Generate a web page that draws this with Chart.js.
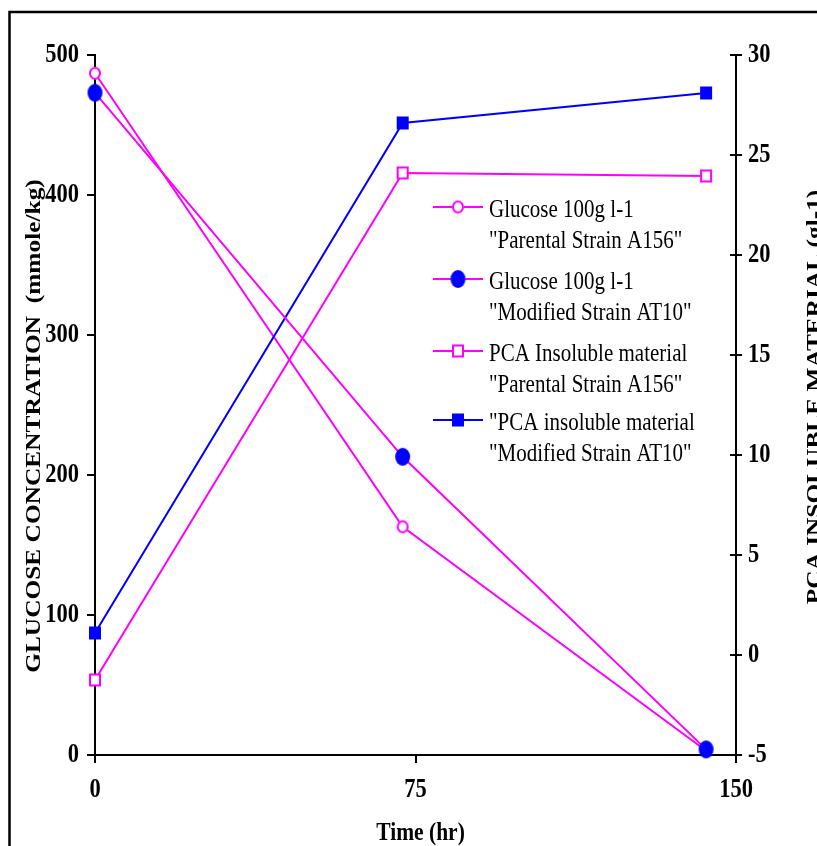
<!DOCTYPE html>
<html>
<head>
<meta charset="utf-8">
<script src="https://cdn.jsdelivr.net/npm/chart.js@4/dist/chart.umd.min.js"></script>
<style>
  html, body { margin: 0; padding: 0; background: #fff; overflow: hidden; }
  #wrap { width: 817px; height: 846px; position: relative; }
</style>
</head>
<body>
<div id="wrap"><canvas id="c" width="817" height="846"></canvas></div>
<script>
// Sampling times (hr)
const timeHours = [0, 72, 143];

// Glucose concentration (mmole/kg), left axis
const glucoseParental = [487, 163, 3];
const glucoseModified = [473, 213, 4];

// PCA insoluble material (g l-1), right axis
const pcaParental = [-1.25, 24.1, 23.95];
const pcaModified = [1.1, 26.6, 28.1];

// Axis tick settings
const xTicks = { min: 0, max: 150, step: 75 };
const glucoseTicks = { min: 0, max: 500, step: 100 };
const pcaTicks = { min: -5, max: 30, step: 5 };

// Labels
const legendLabels = [
  ['Glucose 100g l-1', '"Parental Strain A156"'],
  ['Glucose 100g l-1', '"Modified Strain AT10"'],
  ['PCA Insoluble material', '"Parental Strain A156"'],
  ['"PCA insoluble material', '"Modified Strain AT10"']
];
const xTitle = 'Time (hr)';
const leftTitle = 'GLUCOSE CONCENTRATION  (mmole/kg)';
const rightTitle = 'PCA INSOLUBLE MATERIAL (gl-1)';

const MAGENTA = '#FF00FF';
const BLUE = '#0000FF';
const SERIF = '"Liberation Serif", "Times New Roman", serif';
const STRETCH = 1.18; // type is set a little taller than wide

// Slightly tall marker glyphs
function makeMarker(shape, w, h, fill, stroke, lw) {
  const pad = 2;
  const cv = document.createElement('canvas');
  cv.width = w + pad * 2; cv.height = h + pad * 2;
  const g = cv.getContext('2d');
  g.beginPath();
  if (shape === 'ellipse') {
    g.ellipse(cv.width / 2, cv.height / 2, w / 2, h / 2, 0, 0, Math.PI * 2);
  } else {
    g.rect(pad, pad, w, h);
  }
  if (fill) { g.fillStyle = fill; g.fill(); }
  if (stroke) {
    g.lineWidth = lw; g.strokeStyle = stroke;
    g.beginPath();
    if (shape === 'ellipse') g.ellipse(cv.width / 2, cv.height / 2, w / 2 - lw / 2, h / 2 - lw / 2, 0, 0, Math.PI * 2);
    else g.rect(pad + lw / 2, pad + lw / 2, w - lw, h - lw);
    g.stroke();
  }
  return cv;
}
const mOpenCircle = makeMarker('ellipse', 12, 13, '#fff', MAGENTA, 2);
const mDot = makeMarker('ellipse', 15, 18, BLUE, null, 0);
const mOpenSquare = makeMarker('rect', 12, 13, '#fff', MAGENTA, 2);
const mSquare = makeMarker('rect', 12, 13, BLUE, null, 0);

const pts = (vals) => vals.map((v, i) => ({ x: timeHours[i], y: v }));

const datasets = [
  { label: legendLabels[0].join(' '), data: pts(glucoseParental), yAxisID: 'y',
    borderColor: MAGENTA, pointStyle: mOpenCircle, order: 2 },
  { label: legendLabels[1].join(' '), data: pts(glucoseModified), yAxisID: 'y',
    borderColor: MAGENTA, pointStyle: mDot, order: 0 },
  { label: legendLabels[2].join(' '), data: pts(pcaParental), yAxisID: 'y1',
    borderColor: MAGENTA, pointStyle: mOpenSquare, order: 1 },
  { label: legendLabels[3].join(' '), data: pts(pcaModified), yAxisID: 'y1',
    borderColor: BLUE, pointStyle: mSquare, order: 1 }
].map(d => Object.assign({ borderWidth: 2, tension: 0, fill: false, pointRadius: 7, clip: false }, d));

function drawText(ctx, text, x, y, o) {
  ctx.save();
  ctx.translate(x, y);
  if (o.rotate) ctx.rotate(o.rotate);
  ctx.scale(o.sx || 1, o.sy || 1);
  ctx.font = o.font;
  ctx.fillStyle = '#000';
  ctx.textAlign = o.align || 'left';
  ctx.textBaseline = o.baseline || 'alphabetic';
  ctx.fillText(text, 0, 0);
  ctx.restore();
}

// Frame, tick labels, titles, inner right ticks and the two-line legend
const decorations = {
  id: 'decorations',
  beforeDraw(chart) {
    const ctx = chart.ctx;
    ctx.save();
    ctx.fillStyle = '#fff';
    ctx.fillRect(0, 0, chart.width, chart.height);
    ctx.strokeStyle = '#000';
    ctx.lineWidth = 2.5;
    ctx.beginPath();
    ctx.moveTo(9.5, chart.height + 5);
    ctx.lineTo(9.5, 12);
    ctx.lineTo(chart.width + 5, 12);
    ctx.stroke();
    ctx.restore();
  },
  afterDraw(chart) {
    const ctx = chart.ctx;
    const area = chart.chartArea;
    const { x, y, y1 } = chart.scales;

    // right axis ticks also reach into the plot
    ctx.save();
    ctx.strokeStyle = '#000';
    ctx.lineWidth = 2;
    y1.ticks.forEach(t => {
      const py = y1.getPixelForValue(t.value);
      ctx.beginPath();
      ctx.moveTo(area.right - 6, py);
      ctx.lineTo(area.right, py);
      ctx.stroke();
    });
    ctx.restore();

    // tick labels
    const tickFont = 'bold 22.5px ' + SERIF;
    y.ticks.forEach(t => drawText(ctx, String(t.value), area.left - 16, y.getPixelForValue(t.value),
      { font: tickFont, align: 'right', baseline: 'middle', sy: STRETCH }));
    y1.ticks.forEach(t => drawText(ctx, String(t.value), area.right + 12, y1.getPixelForValue(t.value),
      { font: tickFont, align: 'left', baseline: 'middle', sy: STRETCH }));
    x.ticks.forEach(t => drawText(ctx, String(t.value), x.getPixelForValue(t.value), area.bottom + 35,
      { font: tickFont, align: 'center', baseline: 'middle', sy: STRETCH }));

    const bold = 'bold 21.5px ' + SERIF;
    drawText(ctx, xTitle, (area.left + area.right) / 2 + 5, 840, { font: bold, align: 'center', sy: STRETCH });
    drawText(ctx, leftTitle, 40, 426, { font: bold, align: 'center', rotate: -Math.PI / 2, sx: STRETCH });
    drawText(ctx, rightTitle, 821, 397, { font: bold, align: 'center', rotate: -Math.PI / 2, sx: STRETCH });

    // legend
    const lx0 = 433, lx1 = 483, tx = 489;
    const rows = [207, 279, 351, 420];
    chart.data.datasets.forEach((ds, i) => {
      const ry = rows[i];
      ctx.save();
      ctx.strokeStyle = ds.borderColor;
      ctx.lineWidth = 2;
      ctx.beginPath();
      ctx.moveTo(lx0, ry);
      ctx.lineTo(lx1, ry);
      ctx.stroke();
      const img = ds.pointStyle;
      ctx.drawImage(img, (lx0 + lx1) / 2 - img.width / 2, ry - img.height / 2);
      ctx.restore();
      const font = '21px ' + SERIF;
      drawText(ctx, legendLabels[i][0], tx, ry + 9.5, { font, sy: STRETCH });
      drawText(ctx, legendLabels[i][1], tx, ry + 41, { font, sy: STRETCH });
    });
  }
};

const axisGrid = { drawOnChartArea: false, drawTicks: true, tickLength: 8, color: '#000', lineWidth: 2 };
const axisBorder = { display: true, color: '#000', width: 2 };

new Chart(document.getElementById('c'), {
  type: 'line',
  data: { datasets },
  plugins: [decorations],
  options: {
    responsive: false,
    animation: false,
    events: [],
    layout: { padding: { top: 55, left: 0, right: 0, bottom: 0 } },
    plugins: { legend: { display: false }, tooltip: { enabled: false } },
    scales: {
      x: {
        type: 'linear',
        min: xTicks.min, max: xTicks.max,
        ticks: { stepSize: xTicks.step, display: false },
        grid: axisGrid,
        border: axisBorder,
        afterFit(s) { s.height = 91; }
      },
      y: {
        position: 'left',
        min: glucoseTicks.min, max: glucoseTicks.max,
        ticks: { stepSize: glucoseTicks.step, display: false },
        grid: axisGrid,
        border: axisBorder,
        afterFit(s) { s.width = 95; }
      },
      y1: {
        position: 'right',
        min: pcaTicks.min, max: pcaTicks.max,
        ticks: { stepSize: pcaTicks.step, display: false },
        grid: Object.assign({}, axisGrid, { tickLength: 6 }),
        border: axisBorder,
        afterFit(s) { s.width = 81; }
      }
    }
  }
});
</script>
</body>
</html>
